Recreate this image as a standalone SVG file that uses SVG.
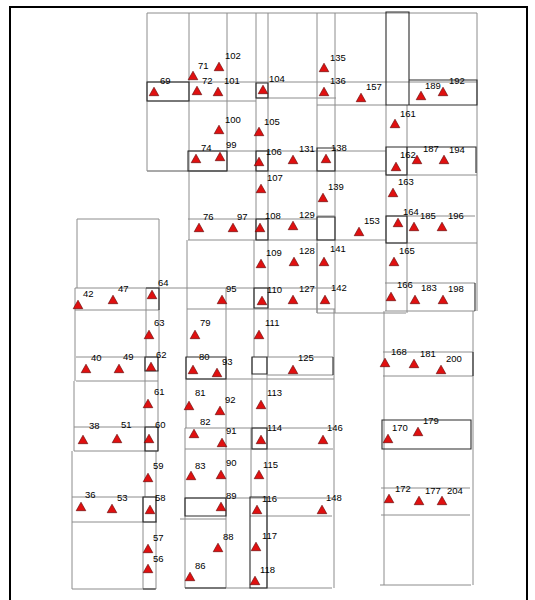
<svg xmlns="http://www.w3.org/2000/svg" xmlns:xlink="http://www.w3.org/1999/xlink" width="535" height="600" viewBox="0 0 535 600">
<style>
.g{fill:none;stroke:#8c8c8c;stroke-width:1}
.d{fill:none;stroke:#2a2a2a;stroke-width:1.1}
.f{fill:none;stroke:#000;stroke-width:2}
.t{fill:#e01010;stroke:#5a0000;stroke-width:0.6}
text{font-family:"Liberation Sans",Arial,sans-serif;font-size:9.5px;fill:#000}
</style>
<defs><path id="tri" d="M0,-4.8 L4.8,3.7 L-4.8,3.7 Z"/></defs>
<rect width="535" height="600" fill="#fff"/>
<path class="f" d="M10,600 V7 H527 V600"/>
<g id="cells">
<path class="g" d="M147,13 H477 V311 M147,13 V171 H227 V13 M189,13 V240 M256,13 V240 M268,13 V240 M317,13 V313 M335,13 V313
M147,82 H477 M147,101 H256 M256,98 H336 M317,105 H386 M188,151 H386 M147,171 H386 M386,175 H477
M188,219 H317 M317,216 H335 M386,216 H475 M188,240 H386 M386,243 H477
M187,240 V357 M186,357 V428 M185,428 V588 M226,288 V588 M254,240 V357 M252,357 V428 M251,428 V497
M268,240 V357 M267,357 V588 M75,288 H335 M187,309 H335 M317,243 V313 M317,313 H406 M334,309 V588
M267,357 H333 M267,375 H333 M186,379 H334 M185,428 H333 M185,449 H333 M185,498 H332 M250,516 H332 M180,519 H226 M185,588 H332
M77,219 H159 V288 M77,219 V288 M75,310 H159 M75,288 V381 M76,357 H158 M76,381 H158 M74,381 V451 M74,427 H158 M74,451 H158
M72,451 V589 M72,497 H157 M72,522 H157 M72,589 H155 M146,288 V357 M145,357 V497 M143,497 V589 M159,288 V357 M158,357 V451 M156,451 V589
M384,311 V585 M473,311 V585 M383,352 H473 M383,376 H473 M381,488 H470 M381,515 H470 M380,585 H471
M386,105 V311 M407,105 V313 M385,283 H475 M385,311 H475"/>
<path class="d" d="M147,82 H189 V101 H147 Z M256,83 H268 V98 H256 Z M386,12 H409 V105 H386 Z M409,80 H477 V105 H409 Z
M188,151 H227 V171 H188 Z M256,151 H268 V171 H256 Z M317,148 H335 V171 H317 Z M386,147 H407 V175 H386 Z M407,147 H476 V173
M256,219 H268 V240 H256 Z M317,217 H335 V240 H317 Z M386,216 H407 V243 H386 Z
M254,288 H268 V308 H254 Z M146,288 H159 V310 M475,283 V311
M186,357 H226 V379 H186 Z M252,357 H267 V374 H252 Z M145,357 H158 V371 H145 Z M333,357 V375 M473,352 V376
M145,427 H158 V451 H145 Z M252,428 H267 V449 H252 Z M382,420 H471 V449 H382 Z
M185,498 H226 V516 H185 Z M143,497 H156 V522 H143 Z M250,497 H267 V588 H250 Z M185,588 H226 M143,589 H156"/>
</g>
<g id="n69"><use xlink:href="#tri" class="t" x="154" y="92"/><text x="160" y="84">69</text></g>
<g id="n71"><use xlink:href="#tri" class="t" x="193" y="76"/><text x="198" y="69">71</text></g>
<g id="n72"><use xlink:href="#tri" class="t" x="197" y="91"/><text x="202" y="84">72</text></g>
<g id="n101"><use xlink:href="#tri" class="t" x="218" y="92"/><text x="224" y="84">101</text></g>
<g id="n102"><use xlink:href="#tri" class="t" x="219" y="67"/><text x="225" y="59">102</text></g>
<g id="n104"><use xlink:href="#tri" class="t" x="263" y="90"/><text x="269" y="82">104</text></g>
<g id="n135"><use xlink:href="#tri" class="t" x="324" y="68"/><text x="330" y="61">135</text></g>
<g id="n136"><use xlink:href="#tri" class="t" x="324" y="92"/><text x="330" y="84">136</text></g>
<g id="n157"><use xlink:href="#tri" class="t" x="361" y="98"/><text x="366" y="90">157</text></g>
<g id="n189"><use xlink:href="#tri" class="t" x="421" y="96"/><text x="425" y="89">189</text></g>
<g id="n192"><use xlink:href="#tri" class="t" x="443" y="92"/><text x="449" y="84">192</text></g>
<g id="n161"><use xlink:href="#tri" class="t" x="395" y="124"/><text x="400" y="117">161</text></g>
<g id="n100"><use xlink:href="#tri" class="t" x="219" y="130"/><text x="225" y="123">100</text></g>
<g id="n105"><use xlink:href="#tri" class="t" x="259" y="132"/><text x="264" y="125">105</text></g>
<g id="n74"><use xlink:href="#tri" class="t" x="196" y="159"/><text x="201" y="151">74</text></g>
<g id="n99"><use xlink:href="#tri" class="t" x="220" y="157"/><text x="226" y="148">99</text></g>
<g id="n106"><use xlink:href="#tri" class="t" x="259" y="162"/><text x="266" y="155">106</text></g>
<g id="n131"><use xlink:href="#tri" class="t" x="293" y="160"/><text x="299" y="152">131</text></g>
<g id="n138"><use xlink:href="#tri" class="t" x="326" y="159"/><text x="331" y="151">138</text></g>
<g id="n162"><use xlink:href="#tri" class="t" x="396" y="167"/><text x="400" y="158">162</text></g>
<g id="n187"><use xlink:href="#tri" class="t" x="417" y="160"/><text x="423" y="152">187</text></g>
<g id="n194"><use xlink:href="#tri" class="t" x="444" y="160"/><text x="449" y="153">194</text></g>
<g id="n107"><use xlink:href="#tri" class="t" x="261" y="189"/><text x="267" y="181">107</text></g>
<g id="n139"><use xlink:href="#tri" class="t" x="323" y="198"/><text x="328" y="190">139</text></g>
<g id="n163"><use xlink:href="#tri" class="t" x="393" y="193"/><text x="398" y="185">163</text></g>
<g id="n76"><use xlink:href="#tri" class="t" x="199" y="228"/><text x="203" y="220">76</text></g>
<g id="n97"><use xlink:href="#tri" class="t" x="233" y="228"/><text x="237" y="220">97</text></g>
<g id="n108"><use xlink:href="#tri" class="t" x="260" y="228"/><text x="265" y="219">108</text></g>
<g id="n129"><use xlink:href="#tri" class="t" x="293" y="226"/><text x="299" y="218">129</text></g>
<g id="n153"><use xlink:href="#tri" class="t" x="359" y="232"/><text x="364" y="224">153</text></g>
<g id="n164"><use xlink:href="#tri" class="t" x="398" y="223"/><text x="403" y="215">164</text></g>
<g id="n185"><use xlink:href="#tri" class="t" x="414" y="227"/><text x="420" y="219">185</text></g>
<g id="n196"><use xlink:href="#tri" class="t" x="442" y="227"/><text x="448" y="219">196</text></g>
<g id="n109"><use xlink:href="#tri" class="t" x="261" y="264"/><text x="266" y="256">109</text></g>
<g id="n128"><use xlink:href="#tri" class="t" x="294" y="262"/><text x="299" y="254">128</text></g>
<g id="n141"><use xlink:href="#tri" class="t" x="324" y="262"/><text x="330" y="252">141</text></g>
<g id="n165"><use xlink:href="#tri" class="t" x="394" y="262"/><text x="399" y="254">165</text></g>
<g id="n42"><use xlink:href="#tri" class="t" x="78" y="305"/><text x="83" y="297">42</text></g>
<g id="n47"><use xlink:href="#tri" class="t" x="113" y="300"/><text x="118" y="292">47</text></g>
<g id="n64"><use xlink:href="#tri" class="t" x="152" y="295"/><text x="158" y="286">64</text></g>
<g id="n95"><use xlink:href="#tri" class="t" x="222" y="300"/><text x="226" y="292">95</text></g>
<g id="n110"><use xlink:href="#tri" class="t" x="262" y="301"/><text x="267" y="293">110</text></g>
<g id="n127"><use xlink:href="#tri" class="t" x="293" y="300"/><text x="299" y="292">127</text></g>
<g id="n142"><use xlink:href="#tri" class="t" x="325" y="300"/><text x="331" y="291">142</text></g>
<g id="n166"><use xlink:href="#tri" class="t" x="391" y="297"/><text x="397" y="288">166</text></g>
<g id="n183"><use xlink:href="#tri" class="t" x="415" y="300"/><text x="421" y="291">183</text></g>
<g id="n198"><use xlink:href="#tri" class="t" x="443" y="300"/><text x="448" y="292">198</text></g>
<g id="n63"><use xlink:href="#tri" class="t" x="149" y="335"/><text x="154" y="326">63</text></g>
<g id="n79"><use xlink:href="#tri" class="t" x="195" y="335"/><text x="200" y="326">79</text></g>
<g id="n111"><use xlink:href="#tri" class="t" x="259" y="335"/><text x="265" y="326">111</text></g>
<g id="n40"><use xlink:href="#tri" class="t" x="86" y="369"/><text x="91" y="361">40</text></g>
<g id="n49"><use xlink:href="#tri" class="t" x="119" y="369"/><text x="123" y="360">49</text></g>
<g id="n62"><use xlink:href="#tri" class="t" x="151" y="367"/><text x="156" y="358">62</text></g>
<g id="n80"><use xlink:href="#tri" class="t" x="193" y="370"/><text x="199" y="360">80</text></g>
<g id="n93"><use xlink:href="#tri" class="t" x="217" y="373"/><text x="222" y="365">93</text></g>
<g id="n125"><use xlink:href="#tri" class="t" x="293" y="370"/><text x="298" y="361">125</text></g>
<g id="n168"><use xlink:href="#tri" class="t" x="385" y="363"/><text x="391" y="355">168</text></g>
<g id="n181"><use xlink:href="#tri" class="t" x="414" y="364"/><text x="420" y="357">181</text></g>
<g id="n200"><use xlink:href="#tri" class="t" x="441" y="370"/><text x="446" y="362">200</text></g>
<g id="n61"><use xlink:href="#tri" class="t" x="148" y="404"/><text x="154" y="395">61</text></g>
<g id="n81"><use xlink:href="#tri" class="t" x="189" y="406"/><text x="195" y="396">81</text></g>
<g id="n92"><use xlink:href="#tri" class="t" x="220" y="411"/><text x="225" y="403">92</text></g>
<g id="n113"><use xlink:href="#tri" class="t" x="261" y="405"/><text x="267" y="396">113</text></g>
<g id="n38"><use xlink:href="#tri" class="t" x="83" y="440"/><text x="89" y="429">38</text></g>
<g id="n51"><use xlink:href="#tri" class="t" x="117" y="439"/><text x="121" y="428">51</text></g>
<g id="n60"><use xlink:href="#tri" class="t" x="149" y="439"/><text x="155" y="428">60</text></g>
<g id="n82"><use xlink:href="#tri" class="t" x="194" y="434"/><text x="200" y="425">82</text></g>
<g id="n91"><use xlink:href="#tri" class="t" x="222" y="443"/><text x="226" y="434">91</text></g>
<g id="n114"><use xlink:href="#tri" class="t" x="261" y="440"/><text x="267" y="431">114</text></g>
<g id="n146"><use xlink:href="#tri" class="t" x="323" y="440"/><text x="327" y="431">146</text></g>
<g id="n170"><use xlink:href="#tri" class="t" x="388" y="439"/><text x="392" y="431">170</text></g>
<g id="n179"><use xlink:href="#tri" class="t" x="418" y="432"/><text x="423" y="424">179</text></g>
<g id="n59"><use xlink:href="#tri" class="t" x="148" y="478"/><text x="153" y="469">59</text></g>
<g id="n83"><use xlink:href="#tri" class="t" x="191" y="476"/><text x="195" y="469">83</text></g>
<g id="n90"><use xlink:href="#tri" class="t" x="221" y="475"/><text x="226" y="466">90</text></g>
<g id="n115"><use xlink:href="#tri" class="t" x="259" y="475"/><text x="263" y="468">115</text></g>
<g id="n36"><use xlink:href="#tri" class="t" x="81" y="507"/><text x="85" y="498">36</text></g>
<g id="n53"><use xlink:href="#tri" class="t" x="112" y="509"/><text x="117" y="501">53</text></g>
<g id="n58"><use xlink:href="#tri" class="t" x="150" y="510"/><text x="155" y="501">58</text></g>
<g id="n89"><use xlink:href="#tri" class="t" x="221" y="507"/><text x="226" y="499">89</text></g>
<g id="n116"><use xlink:href="#tri" class="t" x="257" y="510"/><text x="262" y="502">116</text></g>
<g id="n148"><use xlink:href="#tri" class="t" x="322" y="510"/><text x="326" y="501">148</text></g>
<g id="n172"><use xlink:href="#tri" class="t" x="389" y="499"/><text x="395" y="492">172</text></g>
<g id="n177"><use xlink:href="#tri" class="t" x="419" y="501"/><text x="425" y="494">177</text></g>
<g id="n204"><use xlink:href="#tri" class="t" x="442" y="501"/><text x="447" y="494">204</text></g>
<g id="n57"><use xlink:href="#tri" class="t" x="148" y="549"/><text x="153" y="541">57</text></g>
<g id="n56"><use xlink:href="#tri" class="t" x="148" y="569"/><text x="153" y="562">56</text></g>
<g id="n88"><use xlink:href="#tri" class="t" x="218" y="548"/><text x="223" y="540">88</text></g>
<g id="n117"><use xlink:href="#tri" class="t" x="256" y="547"/><text x="262" y="539">117</text></g>
<g id="n86"><use xlink:href="#tri" class="t" x="190" y="577"/><text x="195" y="569">86</text></g>
<g id="n118"><use xlink:href="#tri" class="t" x="255" y="581"/><text x="260" y="573">118</text></g>
</svg>
